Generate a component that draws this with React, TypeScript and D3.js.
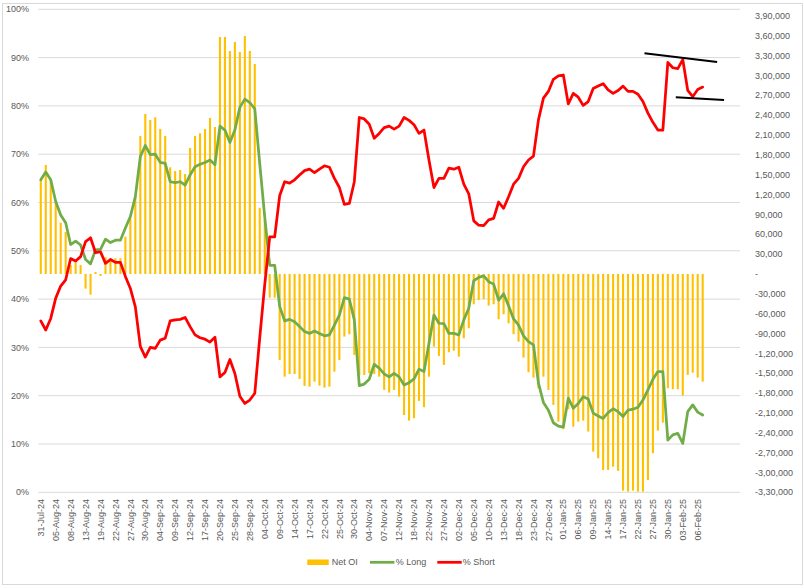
import React from "react";
import * as d3 from "d3";

const dates: string[] = [
  "31-Jul-24","01-Aug-24","02-Aug-24","05-Aug-24","06-Aug-24","07-Aug-24","08-Aug-24","09-Aug-24","12-Aug-24","13-Aug-24",
  "14-Aug-24","16-Aug-24","19-Aug-24","20-Aug-24","21-Aug-24","22-Aug-24","23-Aug-24","26-Aug-24","27-Aug-24","28-Aug-24",
  "29-Aug-24","30-Aug-24","02-Sep-24","03-Sep-24","04-Sep-24","05-Sep-24","06-Sep-24","09-Sep-24","10-Sep-24","11-Sep-24",
  "12-Sep-24","13-Sep-24","16-Sep-24","17-Sep-24","18-Sep-24","19-Sep-24","20-Sep-24","23-Sep-24","24-Sep-24","25-Sep-24",
  "26-Sep-24","27-Sep-24","28-Sep-24","30-Sep-24","03-Oct-24","04-Oct-24","07-Oct-24","08-Oct-24","09-Oct-24","10-Oct-24",
  "11-Oct-24","14-Oct-24","15-Oct-24","16-Oct-24","17-Oct-24","18-Oct-24","21-Oct-24","22-Oct-24","23-Oct-24","24-Oct-24",
  "25-Oct-24","28-Oct-24","29-Oct-24","30-Oct-24","31-Oct-24","01-Nov-24","04-Nov-24","05-Nov-24","06-Nov-24","07-Nov-24",
  "08-Nov-24","11-Nov-24","12-Nov-24","13-Nov-24","14-Nov-24","18-Nov-24","19-Nov-24","21-Nov-24","22-Nov-24","25-Nov-24",
  "26-Nov-24","27-Nov-24","28-Nov-24","29-Nov-24","02-Dec-24","03-Dec-24","04-Dec-24","05-Dec-24","06-Dec-24","09-Dec-24",
  "10-Dec-24","11-Dec-24","12-Dec-24","13-Dec-24","16-Dec-24","17-Dec-24","18-Dec-24","19-Dec-24","20-Dec-24","23-Dec-24",
  "24-Dec-24","26-Dec-24","27-Dec-24","30-Dec-24","31-Dec-24","01-Jan-25","02-Jan-25","03-Jan-25","06-Jan-25","07-Jan-25",
  "08-Jan-25","09-Jan-25","10-Jan-25","13-Jan-25","14-Jan-25","15-Jan-25","16-Jan-25","17-Jan-25","20-Jan-25","21-Jan-25",
  "22-Jan-25","23-Jan-25","24-Jan-25","27-Jan-25","28-Jan-25","29-Jan-25","30-Jan-25","31-Jan-25","01-Feb-25","03-Feb-25",
  "04-Feb-25","05-Feb-25","06-Feb-25","07-Feb-25",
  "", "", "", "", "", "", ""
];

const netOI: number[] = [
  142000,164700,143500,107300,77500,63500,13600,18600,13600,-22200,
  -31300,3000,-3000,25200,23700,23700,23700,56400,84200,116800,
  208500,241800,232700,236800,219100,208500,161200,155600,157100,151100,
  190400,208500,212600,219100,235700,222100,358100,358100,337000,350600,
  335400,359600,337000,317300,100000,81600,-35800,-35800,-130000,-155200,
  -151100,-151100,-158700,-169200,-170300,-162700,-168700,-171800,-170300,-147600,
  -130000,-94700,-91100,-122400,-153600,-152800,-150000,-151100,-155200,-175300,
  -179300,-175300,-185400,-213100,-221600,-218000,-191900,-201400,-155200,-109800,
  -123900,-137500,-118300,-115900,-124900,-97200,-82000,-45800,-39300,-37800,
  -47900,-45800,-68500,-60900,-74500,-91100,-102300,-126400,-148500,-156700,
  -172700,-155200,-175300,-197900,-223200,-234700,-204400,-230700,-223200,-221600,
  -238200,-268500,-278500,-296200,-296200,-291200,-297700,-327400,-328900,-327400,
  -328900,-328900,-311500,-270900,-236800,-224700,-172700,-174200,-174200,-183900,
  -152600,-149100,-156700,-162700
];

const pctLong: number[] = [
  64.7,66.3,64.7,60.2,57.4,55.8,51.3,52.0,51.2,48.2,
  47.3,50.2,50.3,52.4,51.7,52.2,52.2,54.7,57.1,61.2,
  69.5,71.8,69.9,70.0,68.3,68.1,64.3,64.1,64.3,63.6,
  65.7,67.4,67.9,68.3,68.8,67.8,75.8,75.0,72.4,75.0,
  79.7,81.4,80.7,79.4,68.0,57.0,47.0,47.0,38.5,35.5,
  35.8,35.3,34.3,33.3,32.9,33.4,32.9,32.4,32.6,34.6,
  36.7,40.3,40.0,35.7,22.1,22.4,23.4,26.5,25.7,24.5,
  23.9,24.6,23.9,22.2,22.7,23.5,25.5,25.0,30.8,36.7,
  35.0,34.9,32.9,32.9,32.6,35.7,38.1,43.8,44.5,44.8,
  43.6,43.1,39.8,41.1,38.6,35.9,34.6,32.4,31.2,30.5,
  22.6,18.6,17.0,14.4,13.7,13.5,19.5,17.4,18.4,19.8,
  19.3,16.4,15.8,15.3,16.5,17.3,16.7,15.7,17.0,17.2,
  17.6,19.1,21.2,23.4,25.0,25.0,10.8,11.9,12.2,10.1,
  16.7,18.1,16.6,16.0
];

const pctShort: number[] = [
  35.5,33.6,36.0,40.2,42.7,44.0,48.4,47.9,48.8,51.9,
  52.7,49.6,49.8,47.4,48.2,47.6,47.6,44.7,42.2,38.4,
  30.2,28.0,30.0,29.8,31.5,31.9,35.5,35.7,35.8,36.2,
  34.3,32.6,32.0,31.7,31.1,32.1,23.9,24.8,27.5,24.6,
  19.9,18.4,19.1,20.5,32.0,43.0,52.9,52.9,61.4,64.3,
  64.0,64.7,65.7,66.6,66.9,66.2,66.9,67.6,67.3,65.0,
  63.1,59.6,59.8,64.3,77.6,77.3,76.2,73.3,74.3,75.5,
  75.8,75.2,75.8,77.6,77.0,76.1,74.3,75.0,68.8,63.1,
  65.0,65.0,67.1,66.9,67.3,63.8,61.8,56.2,55.3,55.2,
  56.4,56.7,60.1,58.8,61.2,63.8,65.0,67.4,68.8,69.6,
  77.1,81.6,83.0,85.5,86.2,86.4,80.4,82.6,81.8,80.1,
  80.9,83.6,84.1,84.6,83.3,82.6,83.2,84.1,83.0,83.0,
  82.4,80.9,78.5,76.6,75.0,75.0,89.0,87.9,87.7,89.6,
  83.2,81.9,83.4,83.9
];

const leftTicks: number[] = [0, 10, 20, 30, 40, 50, 60, 70, 80, 90, 100];
const rightTicks: number[] = d3.range(-330000, 390001, 30000);

// annotation trend lines, in [category index, % value] terms
const trendLines: [number, number, number, number][] = [
  [121.3, 90.9, 135.9, 89.1],
  [127.6, 81.8, 137.3, 81.2],
];

const legendItems = [
  { label: "Net OI", color: "#FFC000", kind: "bar" },
  { label: "% Long", color: "#70AD47", kind: "line" },
  { label: "% Short", color: "#FF0000", kind: "line" },
];

function indianFormat(v: number): string {
  if (v === 0) return "-";
  const sign = v < 0 ? "-" : "";
  const a = Math.abs(v);
  if (a >= 100000) {
    const lakh = Math.floor(a / 100000);
    const rest = a % 100000;
    const th = Math.floor(rest / 1000);
    const h = rest % 1000;
    return `${sign}${lakh},${String(th).padStart(2, "0")},${String(h).padStart(3, "0")}`;
  }
  return sign + d3.format(",")(a);
}

export default function App() {
  const W = 804, H = 588;
  const left = 38.3, right = 740, top = 9.3, bottom = 492.3;
  const font = "'Liberation Sans', Arial, sans-serif";
  const txt = "#595959";

  const idx = d3.range(dates.length);
  const x = d3.scaleBand<number>().domain(idx).range([left, right]).paddingInner(0.58).paddingOuter(0.29);
  const xc = (i: number) => (x(i) as number) + x.bandwidth() / 2;
  const xi = d3.scaleLinear().domain([-0.5, dates.length - 0.5]).range([left, right]);
  const yL = d3.scaleLinear().domain([0, 100]).range([bottom, top]);
  const yR = d3.scaleLinear().domain([-330000, 400000]).range([bottom, top]);

  const line = d3.line<number>().x((_, i) => xc(i)).y((d) => yL(d));

  return (
    <svg width={W} height={H} style={{ position: "absolute", left: 0, top: 0, background: "#fff" }}>
      <rect x={2.5} y={3.5} width={800} height={581} fill="#fff" stroke="#D9D9D9" />
      {leftTicks.map((t) => (
        <line key={"g" + t} x1={left} x2={right} y1={yL(t)} y2={yL(t)} stroke="#D9D9D9" strokeWidth={1} />
      ))}
      {leftTicks.map((t) => (
        <text key={"l" + t} x={29} y={yL(t)} dy="0.35em" textAnchor="end" fontSize={9} fontFamily={font} fill={txt}>
          {t + "%"}
        </text>
      ))}
      {rightTicks.map((t) => (
        <text key={"r" + t} x={755} y={yR(t)} dy="0.35em" textAnchor="start" fontSize={9} fontFamily={font} fill={txt}>
          {indianFormat(t)}
        </text>
      ))}
      {netOI.map((v, i) => (
        <rect
          key={"b" + i}
          x={x(i) as number}
          width={x.bandwidth()}
          y={Math.min(yR(v), yR(0))}
          height={Math.abs(yR(v) - yR(0))}
          fill="#FFC000"
        />
      ))}
      <path d={line(pctLong) as string} fill="none" stroke="#70AD47" strokeWidth={2.75} strokeLinejoin="round" strokeLinecap="round" />
      <path d={line(pctShort) as string} fill="none" stroke="#FF0000" strokeWidth={2.75} strokeLinejoin="round" strokeLinecap="round" />
      {trendLines.map((t, k) => (
        <line key={"t" + k} x1={xi(t[0])} y1={yL(t[1])} x2={xi(t[2])} y2={yL(t[3])} stroke="#000" strokeWidth={2} />
      ))}
      {dates.map((d, i) =>
        i % 3 === 0 && d ? (
          <text
            key={"x" + i}
            transform={`translate(${xc(i)},${499}) rotate(-90)`}
            dy="0.35em"
            textAnchor="end"
            fontSize={9}
            fontFamily={font}
            fill={txt}
          >
            {d}
          </text>
        ) : null
      )}
      {legendItems.map((it, k) => {
        const xs = [307.3, 370, 437.3][k];
        return (
          <g key={"lg" + k}>
            {it.kind === "bar" ? (
              <rect x={xs} y={559.5} width={21.4} height={5.5} fill={it.color} />
            ) : (
              <line x1={xs} x2={xs + 24.4} y1={562.3} y2={562.3} stroke={it.color} strokeWidth={2.75} />
            )}
            <text x={[331.7, 395.7, 462.7][k]} y={562.3} dy="0.35em" fontSize={9} fontFamily={font} fill={txt}>
              {it.label}
            </text>
          </g>
        );
      })}
    </svg>
  );
}
